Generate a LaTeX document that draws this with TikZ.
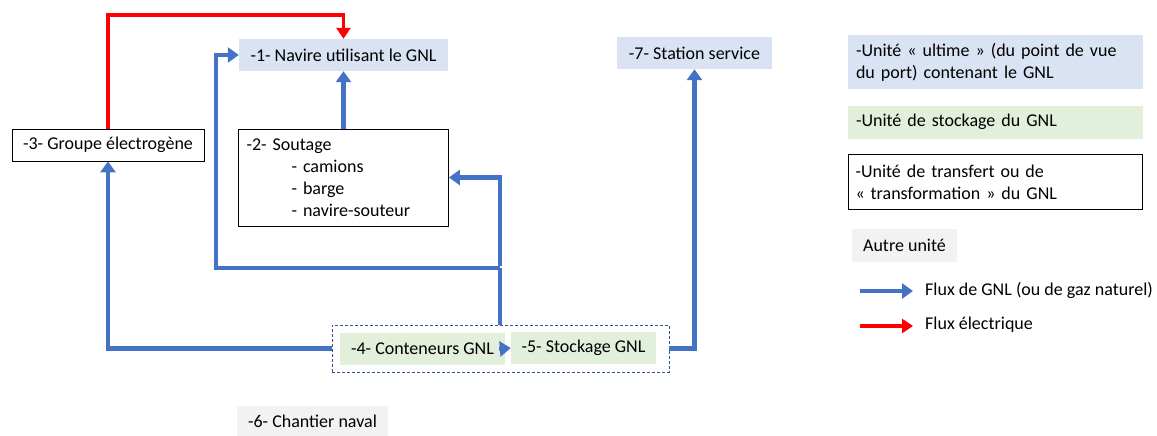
\documentclass[tikz,border=0pt]{standalone}
\usepackage{fontspec}
\setmainfont{Carlito}
\usetikzlibrary{arrows.meta}
\definecolor{ublue}{HTML}{DAE3F3}
\definecolor{ugreen}{HTML}{E2EFDA}
\definecolor{ugrey}{HTML}{F2F2F2}
\definecolor{fblue}{HTML}{4472C4}
\definecolor{dblue}{HTML}{2F5597}
\tikzset{
  every node/.style={font=\fontsize{18}{22}\selectfont, inner sep=0pt},
  ultime/.style={fill=ublue, minimum height=32pt},
  stock/.style={fill=ugreen, minimum height=32pt},
  autre/.style={fill=ugrey, minimum height=32pt},
  transf/.style={draw=black, line width=0.8pt, fill=white, minimum height=32pt},
  flow/.style={draw=fblue, line width=4.5pt, line join=miter, -{Triangle[length=11pt,width=15pt]}},
  flowline/.style={draw=fblue, line width=4.5pt, line join=miter},
  elec/.style={draw=red, line width=3.6pt, line join=miter, -{Triangle[length=11pt,width=14pt]}},
  grpbox/.style={draw=dblue, line width=0.8pt, dash pattern=on 3pt off 2pt},
}
\begin{document}
\begin{tikzpicture}[x=1pt,y=-1pt]
\useasboundingbox (0,0) rectangle (1157,436);
% main nodes
\node[ultime, minimum width=209pt] (n1) at (343.5,55) {-1- Navire utilisant le GNL};
\node[transf, minimum width=210pt, minimum height=97pt, text width=194pt, align=left] (n2) at (343.5,177.5)
  {-2- Soutage\\ \hspace{45pt}- camions\\ \hspace{45pt}- barge\\ \hspace{45pt}- navire-souteur};
\node[transf, minimum width=192pt] (n3) at (108,145) {-3- Groupe électrogène};
\node[grpbox, minimum width=337pt, minimum height=47pt] (grp) at (500.5,348.5) {};
\node[stock, minimum width=165pt] (n4) at (422.5,349) {-4- Conteneurs GNL};
\node[stock, minimum width=145pt] (n5) at (583.5,348) {-5- Stockage GNL};
\node[autre, minimum width=151pt, minimum height=31pt] (n6) at (312.5,421) {-6- Chantier naval};
\node[ultime, minimum width=155pt] (n7) at (694.5,53) {-7- Station service};
% legend
\node[ultime, minimum width=295pt, minimum height=54pt, text width=279pt, align=left] (l1) at (995.5,62)
  {-Unité « ultime » (du point de vue\\du port) contenant le GNL};
\node[stock, minimum width=295pt, minimum height=33pt, text width=279pt, align=left] (l2) at (995.5,122)
  {-Unité de stockage du GNL};
\node[transf, minimum width=294pt, minimum height=55pt, text width=280pt, align=left] (l3) at (995.5,182)
  {-Unité de transfert ou de\\« transformation » du GNL};
\node[autre, minimum width=105pt, minimum height=33pt] (l4) at (904.5,245.5) {Autre unité};
\coordinate (lb0) at (860,291);
\coordinate (lb1) at (913,291);
\coordinate (lr0) at (860,326);
\coordinate (lr1) at (913,326);
\node[anchor=west] (lbt) at (925,290) {Flux de GNL (ou de gaz naturel)};
\node[anchor=west] (lrt) at (925,325) {Flux électrique};
\draw[flow] (lb0) -- (lb1);
\draw[elec] (lr0) -- (lr1);
% connectors
\coordinate (rtop) at (0,15);
\coordinate (j) at (500,268);
\coordinate (lft) at (216,268);
\draw[elec] (n3.north) -- (n3.north |- rtop) -| (n1.north);
\draw[flow] (n2.north) -- (n1.south);
\draw[flow] (grp.west) -| (n3.south);
\draw[flowline] (grp.north -| j) -- (j);
\draw[flow] (j) -- (lft) -- (lft |- n1.west) -- (n1.west);
\draw[flow] ([yshift=2.25pt]j) |- (n2.east);
\draw[flow] (grp.east) -| (n7.south);
\draw[flow] ([xshift=-6pt]n4.east) -- (n5.west);
\end{tikzpicture}
\end{document}
